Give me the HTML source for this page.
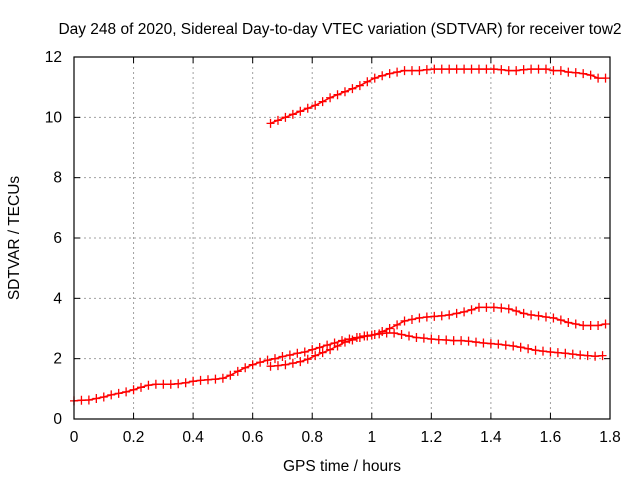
<!DOCTYPE html>
<html><head><meta charset="utf-8"><style>
body{margin:0;background:#fff}
svg text{font-family:"Liberation Sans",sans-serif;font-size:15.5px;fill:#000}
</style></head><body>
<svg id="chart" width="640" height="480">
<rect width="640" height="480" fill="#fff"/>
<text x="340" y="34" text-anchor="middle">Day 248 of 2020, Sidereal Day-to-day VTEC variation (SDTVAR) for receiver tow2</text>
<text x="342" y="471" text-anchor="middle">GPS time / hours</text>
<text transform="translate(19,238) rotate(-90)" text-anchor="middle">SDTVAR / TECUs</text>
<g id="grid"></g><g id="ticks"></g><g id="marks"></g>
<rect x="74" y="57" width="536" height="362" fill="none" stroke="#000" stroke-width="1.2"/>
</svg>
<script>
const xTicks=[0,0.2,0.4,0.6,0.8,1,1.2,1.4,1.6,1.8];
const xTickLabels=["0","0.2","0.4","0.6","0.8","1","1.2","1.4","1.6","1.8"];
const yTicks=[0,2,4,6,8,10,12];
const yTickLabels=["0","2","4","6","8","10","12"];
const s1Start=0, s1Step=0.025;
const s1Values=[0.6,0.62,0.63,0.68,0.73,0.8,0.85,0.9,0.97,1.05,1.12,1.15,1.15,1.15,1.17,1.2,1.25,1.28,1.3,1.32,1.35,1.45,1.58,1.7,1.8,1.88,1.95,2.0,2.07,2.12,2.18,2.22,2.3,2.37,2.45,2.52,2.6,2.65,2.7,2.75,2.78,2.82,2.85,2.85,2.8,2.75,2.7,2.68,2.65,2.63,2.62,2.6,2.6,2.58,2.55,2.52,2.5,2.48,2.45,2.42,2.38,2.33,2.28,2.25,2.22,2.2,2.18,2.15,2.12,2.1,2.08,2.1];
const s2Start=0.66, s2Step=0.025;
const s2Values=[1.75,1.77,1.8,1.85,1.9,1.98,2.1,2.2,2.3,2.42,2.55,2.62,2.7,2.75,2.8,2.9,3.0,3.12,3.25,3.3,3.35,3.38,3.4,3.42,3.45,3.5,3.55,3.62,3.7,3.7,3.7,3.68,3.65,3.58,3.5,3.45,3.42,3.38,3.35,3.28,3.2,3.15,3.1,3.1,3.1,3.15];
const s3Start=0.66, s3Step=0.025;
const s3Values=[9.8,9.9,10.0,10.1,10.2,10.3,10.4,10.52,10.65,10.75,10.85,10.95,11.05,11.18,11.3,11.38,11.45,11.5,11.55,11.55,11.55,11.58,11.6,11.6,11.6,11.6,11.6,11.6,11.6,11.6,11.6,11.58,11.55,11.55,11.58,11.6,11.6,11.6,11.55,11.55,11.5,11.48,11.45,11.4,11.3,11.3];
const NS="http://www.w3.org/2000/svg";
const X0=74,X1=610,Y0=419,Y1=57;
function xs(v){return X0+(v-0)/(1.8-0)*(X1-X0);}
function ys(v){return Y0-(v-0)/(12-0)*(Y0-Y1);}
function mk(tag,attrs,parent){const e=document.createElementNS(NS,tag);for(const k in attrs)e.setAttribute(k,attrs[k]);parent.appendChild(e);return e;}
const grid=document.getElementById('grid'),ticks=document.getElementById('ticks'),marks=document.getElementById('marks');
xTicks.forEach((t,i)=>{const x=xs(t);
 if(i>0&&i<xTicks.length-1){const g=mk('line',{x1:x,x2:x,y1:Y0,y2:Y1,stroke:'#a0a0a0','stroke-dasharray':'2,3'},grid);
 
 }
 mk('line',{x1:x,x2:x,y1:Y0,y2:Y0-6,stroke:'#000'},ticks);mk('line',{x1:x,x2:x,y1:Y1,y2:Y1+6,stroke:'#000'},ticks);
 const tx=mk('text',{x:x,y:Y0+23,'text-anchor':'middle'},ticks);tx.textContent=xTickLabels[i];
 
 });
yTicks.forEach((t,i)=>{const y=ys(t);
 if(i>0&&i<yTicks.length-1){const g=mk('line',{x1:X0,x2:X1,y1:y,y2:y,stroke:'#a0a0a0','stroke-dasharray':'2,3'},grid);
 
 }
 mk('line',{x1:X0,x2:X0+6,y1:y,y2:y,stroke:'#000'},ticks);mk('line',{x1:X1,x2:X1-6,y1:y,y2:y,stroke:'#000'},ticks);
 const tx=mk('text',{x:X0-12,y:y+5,'text-anchor':'end'},ticks);tx.textContent=yTickLabels[i];
 
 });
function series(start,step,vals,name){
 const g=mk('g',{stroke:'#ff0000','stroke-width':1.3},marks);
 
 
 let d='',line='';
 vals.forEach((v,i)=>{const x=xs(start+i*step),y=ys(v);d+=`M${x-4},${y}h8M${x},${y-4.5}v9`;line+=(i?'L':'M')+x+','+y;});
 mk('path',{d:line,fill:'none','stroke-width':1.5},g);
 mk('path',{d:d,fill:'none'},g);}
series(s1Start,s1Step,s1Values,'series-low');
series(s2Start,s2Step,s2Values,'series-mid');
series(s3Start,s3Step,s3Values,'series-high');
</script>
</body></html>
